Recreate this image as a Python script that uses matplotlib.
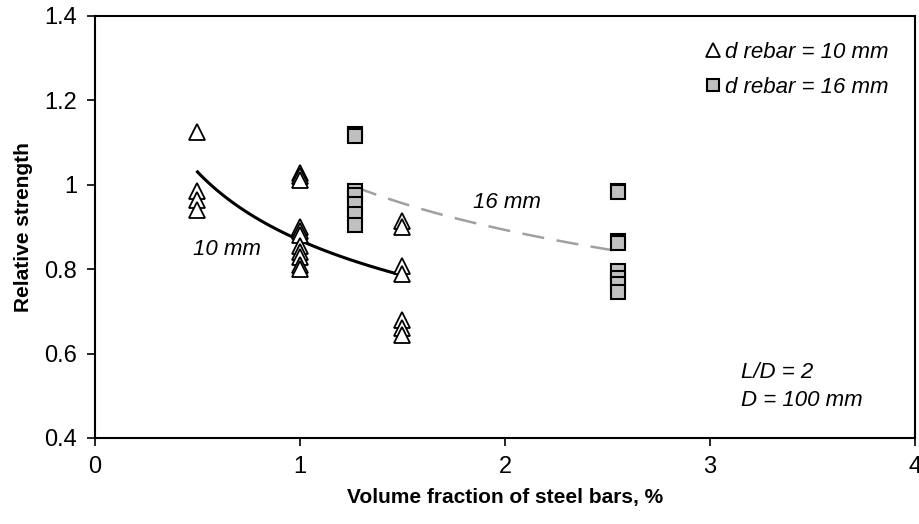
import numpy as np
import matplotlib
matplotlib.use("Agg")
import matplotlib.pyplot as plt

plt.rcParams['font.family'] = ['Liberation Sans', 'DejaVu Sans']

# ---- data ----
x_10mm = [0.5, 0.5, 0.5, 0.5,
          1.0, 1.0, 1.0, 1.0, 1.0, 1.0, 1.0, 1.0, 1.0, 1.0, 1.0,
          1.5, 1.5, 1.5, 1.5, 1.5, 1.5, 1.5]
y_10mm = [1.125, 0.985, 0.965, 0.94,
          1.028, 1.021, 1.011, 0.90, 0.89, 0.88, 0.855, 0.84, 0.83, 0.81, 0.80,
          0.914, 0.90, 0.808, 0.789, 0.68, 0.66, 0.644]

x_16mm = [1.27, 1.27, 1.27, 1.27, 1.27, 1.27, 1.27,
          2.55, 2.55, 2.55, 2.55, 2.55, 2.55, 2.55, 2.55]
y_16mm = [1.12, 1.115, 0.985, 0.975, 0.955, 0.93, 0.905,
          0.985, 0.982, 0.866, 0.862, 0.795, 0.78, 0.765, 0.745]

label_10 = "d rebar = 10 mm"
label_16 = "d rebar = 16 mm"
x_ticks = [0, 1, 2, 3, 4]
y_ticks = [0.4, 0.6, 0.8, 1.0, 1.2, 1.4]
y_tick_labels = ["0.4", "0.6", "0.8", "1", "1.2", "1.4"]


def power_fit(x, y):
    """Power trendline y = a*x^b (least squares in log space, as Excel does)."""
    b, loga = np.polyfit(np.log(x), np.log(y), 1)
    return np.exp(loga), b


fig = plt.figure(figsize=(9.2, 5.24), dpi=100)
ax = fig.add_axes([95 / 920, 1 - 438 / 524, 820 / 920, 422 / 524])

# trendlines
a10, b10 = power_fit(x_10mm, y_10mm)
xs10 = np.linspace(min(x_10mm), max(x_10mm), 100)
ax.plot(xs10, a10 * xs10 ** b10, color='black', lw=2.2, zorder=2)

a16, b16 = power_fit(x_16mm, y_16mm)
xs16 = np.linspace(min(x_16mm), max(x_16mm), 100)
lw16 = 1.8
ax.plot(xs16, a16 * xs16 ** b16, color='#a0a0a0', lw=lw16,
        linestyle=(0, (16 / lw16, 9 / lw16)), zorder=2)

# scatter points
ax.plot(x_10mm, y_10mm, linestyle='none', marker='^', ms=11,
        mfc='white', mec='black', mew=1.3, label=label_10, zorder=3)
ax.plot(x_16mm, y_16mm, linestyle='none', marker='s', ms=9.5,
        mfc='#c0c0c0', mec='black', mew=1.5, label=label_16, zorder=3)

ax.set_xlim(0, 4)
ax.set_ylim(0.4, 1.4)
ax.set_xticks(x_ticks)
ax.set_xticklabels([str(t) for t in x_ticks])
ax.set_yticks(y_ticks)
ax.set_yticklabels(y_tick_labels)
ax.tick_params(direction='out', length=6, width=1.2, labelsize=17, pad=7)

for s in ax.spines.values():
    s.set_linewidth(1.5)
    s.set_color('black')

ax.set_xlabel("Volume fraction of steel bars, %", fontsize=15, fontweight='bold',
              labelpad=7)
ax.set_ylabel("Relative strength", fontsize=15, fontweight='bold', labelpad=8)

# annotations
ax.text(0.478, 0.846, "10 mm", fontsize=16, style='italic', va='center', ha='left')
ax.text(1.844, 0.957, "16 mm", fontsize=16, style='italic', va='center', ha='left')
ax.text(3.151, 0.556, "L/D = 2", fontsize=16, style='italic', va='center', ha='left')
ax.text(3.151, 0.488, "D = 100 mm", fontsize=16, style='italic', va='center', ha='left')

leg = ax.legend(loc='upper right', bbox_to_anchor=(0.979, 0.96), frameon=False,
                fontsize=16, handlelength=0.6, handletextpad=0.25, labelspacing=0.62,
                borderaxespad=0, markerscale=0.9)
for t in leg.get_texts():
    t.set_style('italic')

fig.savefig("out.png", dpi=100)
